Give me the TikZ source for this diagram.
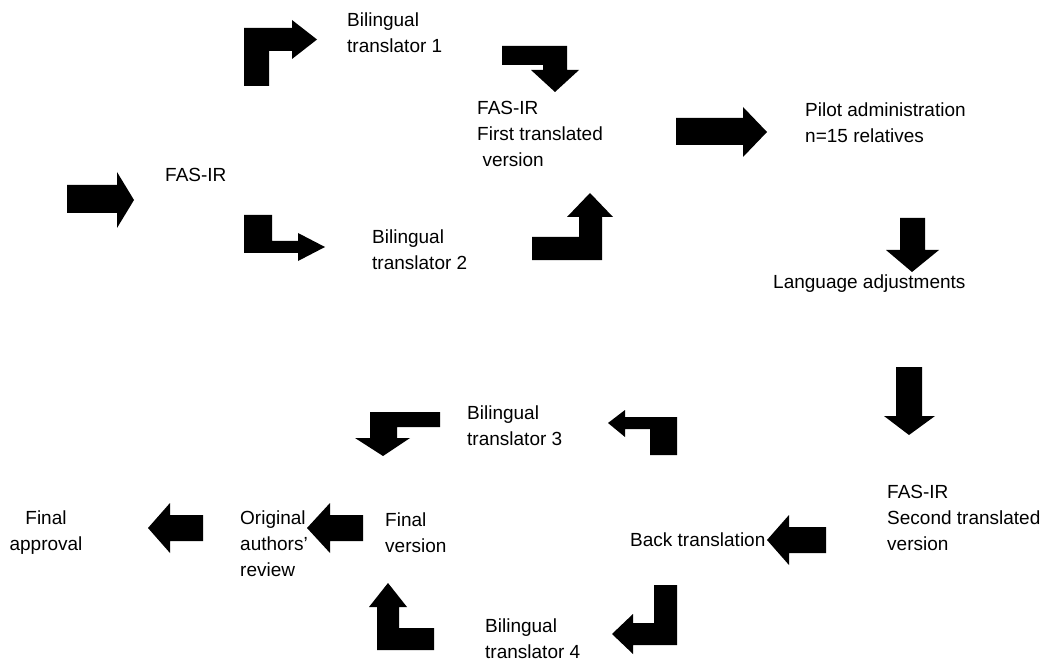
\documentclass[tikz,border=0pt]{standalone}
\usepackage{fontspec}
\setmainfont{Liberation Sans}
\usepackage{tikz}
\usepackage{xcolor}
\colorlet{arrowcolor}{black}
\colorlet{textcolor}{black}
\tikzstyle{steptext} =[
    anchor=north west,
    inner sep=0pt,
    align=left,
    text=textcolor,
    font=\fontsize{19}{26}\selectfont
    ]
\tikzstyle{blockarrow} = [
    fill=arrowcolor,
    draw=none
    ]

\begin{document}
\begin{tikzpicture}[x=1pt,y=-1pt]
\useasboundingbox (0,0) rectangle (1063,663);

% labels
\node[steptext] (transone) at (347,13) {Bilingual\\translator 1};
\node[steptext] (fasir) at (165,168) {FAS-IR};
\node[steptext] (firstver) at (477,101) {FAS-IR\\First translated\\\hspace*{0.28em}version};
\node[steptext] (pilot) at (805,103) {Pilot administration\\n=15 relatives};
\node[steptext] (transtwo) at (372,230) {Bilingual\\translator 2};
\node[steptext] (langadj) at (773,275) {Language adjustments};
\node[steptext] (transthree) at (467,406) {Bilingual\\translator 3};
\node[steptext] (secondver) at (887,485) {FAS-IR\\Second translated\\version};
\node[steptext] (backtrans) at (630,533) {Back translation};
\node[steptext] (finalver) at (385,513) {Final\\version};
\node[steptext] (authors) at (240,511) {Original\\authors'\\review};
\node[steptext, anchor=north, align=center] (approval) at (46,511) {Final\\approval};
\node[steptext] (transfour) at (485,619) {Bilingual\\translator 4};

% block arrows
\fill[blockarrow] (67,185) -- (117,185) -- (117,172) -- (134,200) -- (117,228) -- (117,213) -- (67,213) -- cycle;
\fill[blockarrow] (244,86) -- (244,28) -- (292,28) -- (292,20) -- (317,39.5) -- (292,59) -- (292,51) -- (269,51) -- (269,86) -- cycle;
\fill[blockarrow] (244,215) -- (272,215) -- (272,241) -- (298,241) -- (298,233) -- (325,247) -- (298,261) -- (298,253) -- (244,253) -- cycle;
\fill[blockarrow] (502,46) -- (567,46) -- (567,70) -- (579,70) -- (555,92) -- (531,70) -- (543,70) -- (543,65) -- (502,65) -- cycle;
\fill[blockarrow] (532,237) -- (579,237) -- (579,217) -- (567,217) -- (590,193) -- (613,217) -- (602,217) -- (602,260) -- (532,260) -- cycle;
\fill[blockarrow] (676,118) -- (743,118) -- (743,107) -- (767,132) -- (743,157) -- (743,145) -- (676,145) -- cycle;
\fill[blockarrow] (900,218) -- (925,218) -- (925,250) -- (939,250) -- (912,272) -- (886,250) -- (900,250) -- cycle;
\fill[blockarrow] (896,367) -- (922,367) -- (922,416) -- (935,416) -- (909,435) -- (884,416) -- (896,416) -- cycle;
\fill[blockarrow] (826,527) -- (789,527) -- (789,515) -- (767,540) -- (789,565) -- (789,553) -- (826,553) -- cycle;
\fill[blockarrow] (654,585) -- (677,585) -- (677,645) -- (633,645) -- (633,654) -- (612,634) -- (633,614) -- (633,623) -- (654,623) -- cycle;
\fill[blockarrow] (677,455) -- (677,417) -- (625,417) -- (625,410) -- (608,423) -- (625,437) -- (625,429) -- (650,429) -- (650,455) -- cycle;
\fill[blockarrow] (440,412) -- (370,412) -- (370,438) -- (355,438) -- (383,456) -- (410,438) -- (397,438) -- (397,427) -- (440,427) -- cycle;
\fill[blockarrow] (434,650) -- (377,650) -- (377,607) -- (369,607) -- (388,583) -- (407,607) -- (399,607) -- (399,628) -- (434,628) -- cycle;
\fill[blockarrow] (363,515) -- (330,515) -- (330,503) -- (307,528) -- (330,553) -- (330,541) -- (363,541) -- cycle;
\fill[blockarrow] (203,515) -- (170,515) -- (170,503) -- (148,528) -- (170,553) -- (170,541) -- (203,541) -- cycle;
\end{tikzpicture}
\end{document}
